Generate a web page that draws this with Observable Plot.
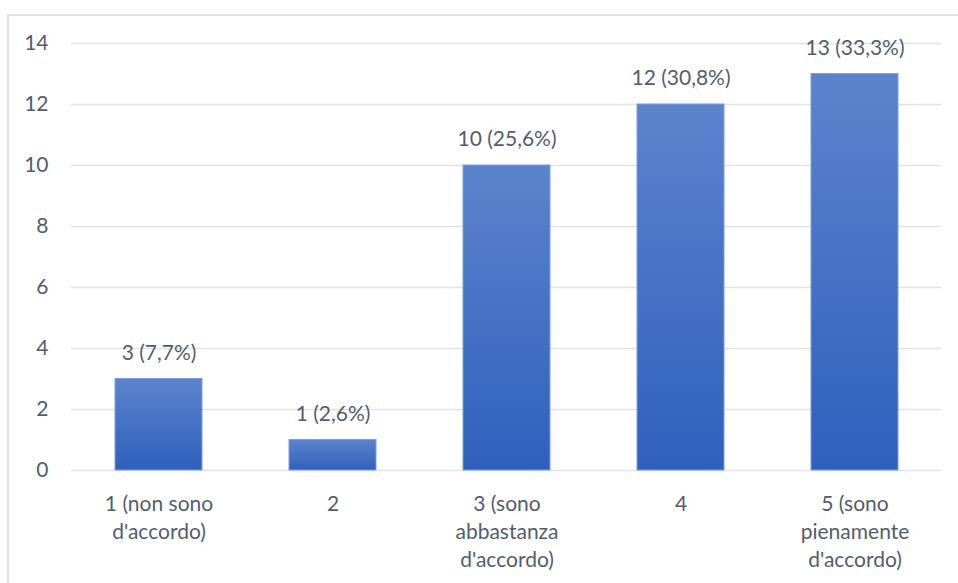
<!DOCTYPE html>
<html>
<head>
<meta charset="utf-8">
<script src="https://cdn.jsdelivr.net/npm/d3@7"></script>
<script src="https://cdn.jsdelivr.net/npm/@observablehq/plot@0.6"></script>
<style>
  html, body { margin: 0; padding: 0; background: #fff; }
  #wrap { position: relative; width: 958px; height: 583px; overflow: hidden; }
  #border { position: absolute; left: 7px; top: 14px; right: -2px; bottom: -2px;
            border-top: 2px solid #dfe2e7; border-left: 2px solid #dfe2e7; pointer-events: none; }
</style>
</head>
<body>
<div id="wrap"><div id="border"></div></div>
<script>
const categories = [
  "1 (non sono\nd'accordo)",
  "2",
  "3 (sono\nabbastanza\nd'accordo)",
  "4",
  "5 (sono\npienamente\nd'accordo)"
];
const counts = [3, 1, 10, 12, 13];
const valueLabels = ["3 (7,7%)", "1 (2,6%)", "10 (25,6%)", "12 (30,8%)", "13 (33,3%)"];
const yTicks = [0, 2, 4, 6, 8, 10, 12, 14];

const data = categories.map((c, i) => ({cat: c, n: counts[i], label: valueLabels[i]}));
const textColor = "#525e6f";

const defs = () => {
  const ns = "http://www.w3.org/2000/svg";
  const d = document.createElementNS(ns, "defs");
  d.innerHTML = `<linearGradient id="barGrad" x1="0" y1="0" x2="0" y2="1">
      <stop offset="0" stop-color="#5c84cd"/>
      <stop offset="1" stop-color="#2f60bd"/>
    </linearGradient>`;
  return d;
};

const chart = Plot.plot({
  width: 958,
  height: 583,
  marginLeft: 71,
  marginRight: 17,
  marginTop: 43,
  marginBottom: 113,
  style: {fontFamily: "Lato, 'Open Sans', sans-serif", fontSize: "21px", color: textColor, background: "transparent"},
  x: {domain: categories, paddingInner: 0.5, paddingOuter: 0.25, label: null},
  y: {domain: [0, 14], label: null},
  marks: [
    defs,
    Plot.gridY(yTicks, {stroke: "#dfe2e7", strokeOpacity: 1, strokeWidth: 1.5}),
    Plot.barY(data, {x: "cat", y: "n", fill: "url(#barGrad)", stroke: "#7f9fdc", strokeWidth: 1}),
    Plot.text(data, {x: "cat", y: "n", text: "label", dy: -26, fill: textColor, fontSize: 21, lineAnchor: "middle"}),
    Plot.axisY({ticks: yTicks, tickSize: 0, tickPadding: 23, fontSize: 21, fill: textColor, label: null}),
    Plot.axisX({tickSize: 0, tickPadding: 20, fontSize: 21, fill: textColor, lineHeight: 1.35, label: null})
  ]
});
chart.style.position = "absolute";
chart.style.left = "0px";
chart.style.top = "0px";
document.getElementById("wrap").prepend(chart);
</script>
</body>
</html>
